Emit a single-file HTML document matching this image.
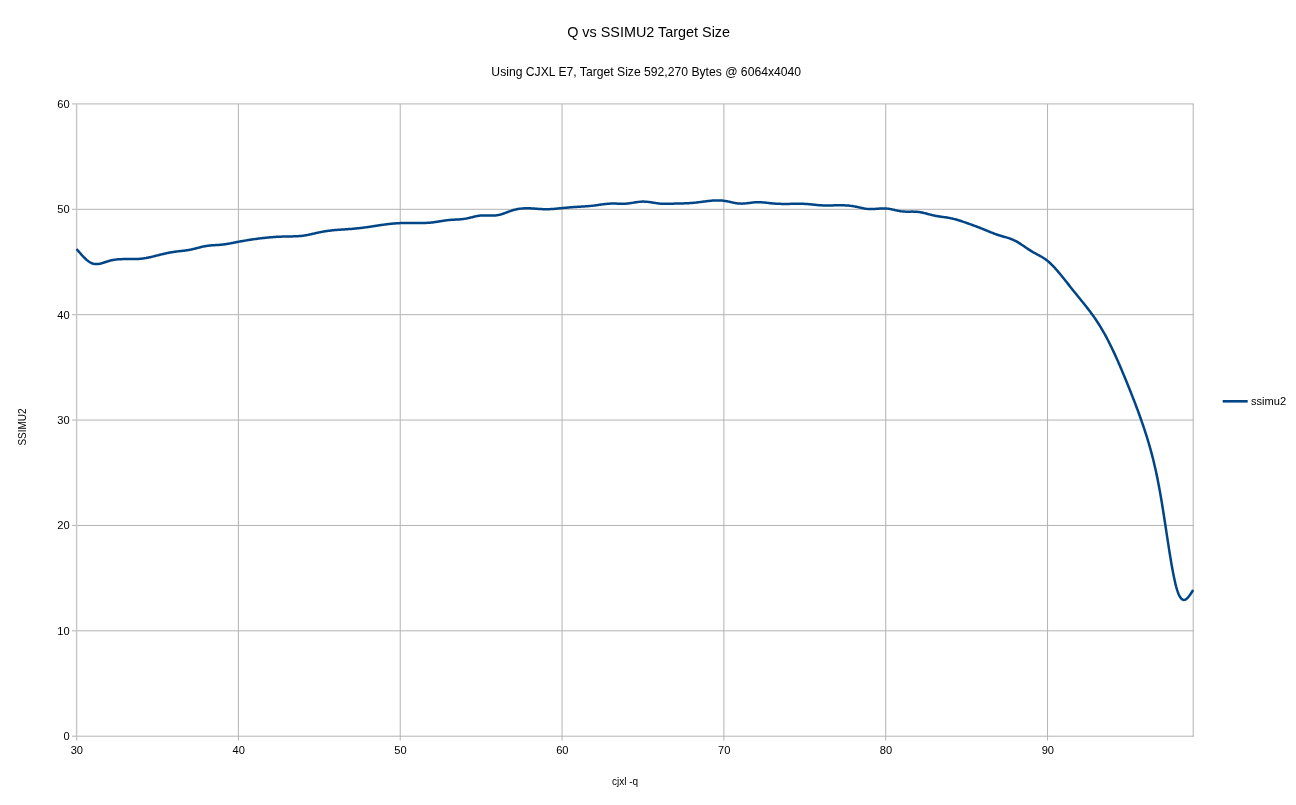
<!DOCTYPE html>
<html><head><meta charset="utf-8"><title>Q vs SSIMU2 Target Size</title>
<style>
html,body{margin:0;padding:0;background:#fff;}
body{width:1296px;height:805px;overflow:hidden;}
svg{display:block;font-family:"Liberation Sans",Arial,sans-serif;}
</style></head><body>
<svg width="1296" height="805" viewBox="0 0 1296 805">
<rect width="1296" height="805" fill="#ffffff"/>
<g>
<text transform="translate(648.6,36.6)" text-anchor="middle" font-size="14.4" fill="#000">Q vs SSIMU2 Target Size</text>
<text transform="translate(646.2,75.5)" text-anchor="middle" font-size="12.16" fill="#000">Using CJXL E7, Target Size 592,270 Bytes @ 6064x4040</text>
<g stroke="#b3b3b3" stroke-width="1" fill="none">
<line x1="72" y1="736.20" x2="1193.7" y2="736.20"/><line x1="72" y1="630.82" x2="1193.7" y2="630.82"/><line x1="72" y1="525.44" x2="1193.7" y2="525.44"/><line x1="72" y1="420.06" x2="1193.7" y2="420.06"/><line x1="72" y1="314.68" x2="1193.7" y2="314.68"/><line x1="72" y1="209.30" x2="1193.7" y2="209.30"/><line x1="72" y1="103.92" x2="1193.7" y2="103.92"/>
<line x1="76.62" y1="103.9" x2="76.62" y2="740.6" stroke="#c6c6c6" stroke-width="1.4"/><line x1="238.38" y1="103.9" x2="238.38" y2="740.6"/><line x1="400.22" y1="103.9" x2="400.22" y2="740.6"/><line x1="562.05" y1="103.9" x2="562.05" y2="740.6"/><line x1="723.88" y1="103.9" x2="723.88" y2="740.6"/><line x1="885.72" y1="103.9" x2="885.72" y2="740.6"/><line x1="1047.55" y1="103.9" x2="1047.55" y2="740.6"/>
<line x1="1193.2" y1="103.9" x2="1193.2" y2="736.7"/>
</g>
<g font-size="11.1" fill="#000">
<text transform="translate(69.6,740.20)" text-anchor="end">0</text><text transform="translate(69.6,634.82)" text-anchor="end">10</text><text transform="translate(69.6,529.44)" text-anchor="end">20</text><text transform="translate(69.6,424.06)" text-anchor="end">30</text><text transform="translate(69.6,318.68)" text-anchor="end">40</text><text transform="translate(69.6,213.30)" text-anchor="end">50</text><text transform="translate(69.6,107.92)" text-anchor="end">60</text>
<text transform="translate(76.85,754.2)" text-anchor="middle">30</text><text transform="translate(238.68,754.2)" text-anchor="middle">40</text><text transform="translate(400.52,754.2)" text-anchor="middle">50</text><text transform="translate(562.35,754.2)" text-anchor="middle">60</text><text transform="translate(724.18,754.2)" text-anchor="middle">70</text><text transform="translate(886.02,754.2)" text-anchor="middle">80</text><text transform="translate(1047.85,754.2)" text-anchor="middle">90</text>
</g>
<path d="M76.55,248.98 L77.36,249.94 L78.17,250.89 L78.98,251.84 L79.79,252.78 L80.60,253.70 L81.41,254.61 L82.21,255.49 L83.02,256.35 L83.83,257.19 L84.64,257.99 L85.45,258.76 L86.26,259.49 L87.07,260.17 L87.88,260.82 L88.69,261.41 L89.50,261.96 L90.31,262.44 L91.11,262.87 L91.92,263.24 L92.73,263.54 L93.54,263.77 L94.35,263.94 L95.16,264.05 L95.97,264.10 L96.78,264.10 L97.59,264.06 L98.40,263.97 L99.21,263.84 L100.02,263.68 L100.82,263.49 L101.63,263.27 L102.44,263.04 L103.25,262.79 L104.06,262.52 L104.87,262.25 L105.68,261.98 L106.49,261.70 L107.30,261.44 L108.11,261.18 L108.92,260.94 L109.73,260.72 L110.54,260.51 L111.34,260.33 L112.15,260.15 L112.96,260.00 L113.77,259.86 L114.58,259.74 L115.39,259.63 L116.20,259.53 L117.01,259.44 L117.82,259.37 L118.63,259.31 L119.44,259.25 L120.25,259.21 L121.05,259.17 L121.86,259.14 L122.67,259.12 L123.48,259.11 L124.29,259.10 L125.10,259.09 L125.91,259.09 L126.72,259.09 L127.53,259.09 L128.34,259.09 L129.15,259.10 L129.95,259.10 L130.76,259.11 L131.57,259.11 L132.38,259.11 L133.19,259.10 L134.00,259.09 L134.81,259.08 L135.62,259.06 L136.43,259.03 L137.24,259.00 L138.05,258.96 L138.86,258.91 L139.66,258.85 L140.47,258.78 L141.28,258.70 L142.09,258.61 L142.90,258.50 L143.71,258.39 L144.52,258.26 L145.33,258.13 L146.14,257.99 L146.95,257.83 L147.76,257.67 L148.57,257.51 L149.38,257.34 L150.18,257.16 L150.99,256.97 L151.80,256.79 L152.61,256.59 L153.42,256.40 L154.23,256.20 L155.04,256.00 L155.85,255.80 L156.66,255.59 L157.47,255.39 L158.28,255.19 L159.09,254.98 L159.89,254.78 L160.70,254.58 L161.51,254.39 L162.32,254.19 L163.13,254.00 L163.94,253.81 L164.75,253.62 L165.56,253.44 L166.37,253.26 L167.18,253.08 L167.99,252.91 L168.80,252.75 L169.60,252.59 L170.41,252.44 L171.22,252.29 L172.03,252.16 L172.84,252.02 L173.65,251.90 L174.46,251.78 L175.27,251.67 L176.08,251.57 L176.89,251.47 L177.70,251.38 L178.50,251.29 L179.31,251.20 L180.12,251.11 L180.93,251.03 L181.74,250.94 L182.55,250.85 L183.36,250.75 L184.17,250.66 L184.98,250.56 L185.79,250.45 L186.60,250.33 L187.41,250.21 L188.21,250.08 L189.02,249.94 L189.83,249.79 L190.64,249.63 L191.45,249.45 L192.26,249.27 L193.07,249.08 L193.88,248.88 L194.69,248.68 L195.50,248.48 L196.31,248.27 L197.12,248.06 L197.93,247.85 L198.73,247.64 L199.54,247.43 L200.35,247.23 L201.16,247.03 L201.97,246.84 L202.78,246.65 L203.59,246.48 L204.40,246.31 L205.21,246.16 L206.02,246.02 L206.83,245.89 L207.64,245.78 L208.44,245.68 L209.25,245.59 L210.06,245.50 L210.87,245.43 L211.68,245.36 L212.49,245.30 L213.30,245.24 L214.11,245.19 L214.92,245.14 L215.73,245.09 L216.54,245.04 L217.35,244.99 L218.15,244.94 L218.96,244.88 L219.77,244.82 L220.58,244.76 L221.39,244.68 L222.20,244.60 L223.01,244.51 L223.82,244.41 L224.63,244.30 L225.44,244.19 L226.25,244.06 L227.05,243.93 L227.86,243.80 L228.67,243.66 L229.48,243.52 L230.29,243.37 L231.10,243.21 L231.91,243.06 L232.72,242.90 L233.53,242.74 L234.34,242.58 L235.15,242.42 L235.96,242.26 L236.76,242.10 L237.57,241.95 L238.38,241.79 L239.19,241.64 L240.00,241.48 L240.81,241.34 L241.62,241.19 L242.43,241.05 L243.24,240.90 L244.05,240.76 L244.86,240.63 L245.67,240.49 L246.48,240.36 L247.28,240.23 L248.09,240.10 L248.90,239.97 L249.71,239.84 L250.52,239.72 L251.33,239.60 L252.14,239.48 L252.95,239.36 L253.76,239.24 L254.57,239.13 L255.38,239.02 L256.19,238.91 L256.99,238.80 L257.80,238.69 L258.61,238.58 L259.42,238.48 L260.23,238.38 L261.04,238.28 L261.85,238.18 L262.66,238.08 L263.47,237.99 L264.28,237.90 L265.09,237.81 L265.90,237.73 L266.70,237.64 L267.51,237.56 L268.32,237.48 L269.13,237.41 L269.94,237.34 L270.75,237.27 L271.56,237.20 L272.37,237.14 L273.18,237.08 L273.99,237.03 L274.80,236.97 L275.60,236.92 L276.41,236.87 L277.22,236.83 L278.03,236.78 L278.84,236.74 L279.65,236.71 L280.46,236.67 L281.27,236.64 L282.08,236.61 L282.89,236.58 L283.70,236.56 L284.51,236.53 L285.31,236.51 L286.12,236.50 L286.93,236.48 L287.74,236.47 L288.55,236.45 L289.36,236.44 L290.17,236.43 L290.98,236.42 L291.79,236.40 L292.60,236.39 L293.41,236.37 L294.22,236.35 L295.02,236.32 L295.83,236.29 L296.64,236.26 L297.45,236.22 L298.26,236.17 L299.07,236.11 L299.88,236.05 L300.69,235.98 L301.50,235.90 L302.31,235.80 L303.12,235.70 L303.93,235.59 L304.74,235.46 L305.54,235.33 L306.35,235.18 L307.16,235.03 L307.97,234.87 L308.78,234.71 L309.59,234.54 L310.40,234.36 L311.21,234.18 L312.02,234.00 L312.83,233.82 L313.64,233.63 L314.45,233.44 L315.25,233.26 L316.06,233.08 L316.87,232.89 L317.68,232.71 L318.49,232.54 L319.30,232.37 L320.11,232.21 L320.92,232.05 L321.73,231.89 L322.54,231.75 L323.35,231.60 L324.15,231.46 L324.96,231.33 L325.77,231.20 L326.58,231.08 L327.39,230.96 L328.20,230.85 L329.01,230.74 L329.82,230.64 L330.63,230.54 L331.44,230.44 L332.25,230.35 L333.06,230.27 L333.87,230.18 L334.67,230.10 L335.48,230.03 L336.29,229.96 L337.10,229.89 L337.91,229.83 L338.72,229.77 L339.53,229.71 L340.34,229.65 L341.15,229.59 L341.96,229.54 L342.77,229.49 L343.57,229.44 L344.38,229.38 L345.19,229.33 L346.00,229.28 L346.81,229.23 L347.62,229.17 L348.43,229.12 L349.24,229.06 L350.05,229.00 L350.86,228.94 L351.67,228.88 L352.48,228.81 L353.29,228.74 L354.09,228.67 L354.90,228.60 L355.71,228.52 L356.52,228.44 L357.33,228.35 L358.14,228.27 L358.95,228.18 L359.76,228.09 L360.57,227.99 L361.38,227.90 L362.19,227.80 L363.00,227.70 L363.80,227.59 L364.61,227.49 L365.42,227.38 L366.23,227.27 L367.04,227.15 L367.85,227.04 L368.66,226.92 L369.47,226.80 L370.28,226.68 L371.09,226.56 L371.90,226.44 L372.70,226.32 L373.51,226.19 L374.32,226.07 L375.13,225.94 L375.94,225.82 L376.75,225.69 L377.56,225.57 L378.37,225.44 L379.18,225.32 L379.99,225.20 L380.80,225.08 L381.61,224.96 L382.42,224.85 L383.22,224.73 L384.03,224.62 L384.84,224.51 L385.65,224.41 L386.46,224.30 L387.27,224.20 L388.08,224.11 L388.89,224.01 L389.70,223.92 L390.51,223.83 L391.32,223.75 L392.12,223.67 L392.93,223.59 L393.74,223.52 L394.55,223.45 L395.36,223.39 L396.17,223.33 L396.98,223.28 L397.79,223.22 L398.60,223.18 L399.41,223.14 L400.22,223.10 L401.03,223.07 L401.84,223.04 L402.64,223.02 L403.45,223.00 L404.26,222.98 L405.07,222.97 L405.88,222.96 L406.69,222.96 L407.50,222.95 L408.31,222.95 L409.12,222.95 L409.93,222.95 L410.74,222.96 L411.55,222.96 L412.35,222.97 L413.16,222.98 L413.97,222.98 L414.78,222.99 L415.59,222.99 L416.40,223.00 L417.21,223.00 L418.02,223.01 L418.83,223.01 L419.64,223.01 L420.45,223.01 L421.25,223.00 L422.06,222.99 L422.87,222.98 L423.68,222.96 L424.49,222.94 L425.30,222.91 L426.11,222.88 L426.92,222.84 L427.73,222.80 L428.54,222.75 L429.35,222.69 L430.16,222.63 L430.96,222.56 L431.77,222.48 L432.58,222.39 L433.39,222.29 L434.20,222.19 L435.01,222.08 L435.82,221.96 L436.63,221.84 L437.44,221.71 L438.25,221.58 L439.06,221.45 L439.87,221.32 L440.68,221.18 L441.48,221.05 L442.29,220.92 L443.10,220.79 L443.91,220.67 L444.72,220.55 L445.53,220.43 L446.34,220.32 L447.15,220.22 L447.96,220.12 L448.77,220.04 L449.58,219.96 L450.39,219.90 L451.19,219.84 L452.00,219.79 L452.81,219.74 L453.62,219.69 L454.43,219.65 L455.24,219.61 L456.05,219.57 L456.86,219.53 L457.67,219.48 L458.48,219.43 L459.29,219.38 L460.10,219.32 L460.90,219.25 L461.71,219.17 L462.52,219.09 L463.33,218.99 L464.14,218.88 L464.95,218.75 L465.76,218.61 L466.57,218.46 L467.38,218.29 L468.19,218.11 L469.00,217.93 L469.80,217.74 L470.61,217.55 L471.42,217.35 L472.23,217.16 L473.04,216.96 L473.85,216.77 L474.66,216.58 L475.47,216.40 L476.28,216.23 L477.09,216.07 L477.90,215.93 L478.71,215.79 L479.51,215.68 L480.32,215.58 L481.13,215.50 L481.94,215.44 L482.75,215.41 L483.56,215.38 L484.37,215.38 L485.18,215.38 L485.99,215.40 L486.80,215.42 L487.61,215.45 L488.42,215.47 L489.23,215.50 L490.03,215.52 L490.84,215.54 L491.65,215.55 L492.46,215.55 L493.27,215.54 L494.08,215.51 L494.89,215.46 L495.70,215.40 L496.51,215.31 L497.32,215.19 L498.13,215.05 L498.94,214.88 L499.74,214.68 L500.55,214.47 L501.36,214.24 L502.17,213.99 L502.98,213.72 L503.79,213.45 L504.60,213.16 L505.41,212.87 L506.22,212.57 L507.03,212.27 L507.84,211.97 L508.65,211.67 L509.45,211.38 L510.26,211.09 L511.07,210.81 L511.88,210.54 L512.69,210.28 L513.50,210.04 L514.31,209.82 L515.12,209.61 L515.93,209.42 L516.74,209.25 L517.55,209.09 L518.35,208.95 L519.16,208.83 L519.97,208.72 L520.78,208.62 L521.59,208.53 L522.40,208.46 L523.21,208.40 L524.02,208.36 L524.83,208.32 L525.64,208.30 L526.45,208.28 L527.26,208.28 L528.06,208.28 L528.87,208.30 L529.68,208.32 L530.49,208.35 L531.30,208.39 L532.11,208.43 L532.92,208.48 L533.73,208.53 L534.54,208.59 L535.35,208.65 L536.16,208.71 L536.97,208.77 L537.77,208.84 L538.58,208.90 L539.39,208.95 L540.20,209.01 L541.01,209.06 L541.82,209.11 L542.63,209.15 L543.44,209.18 L544.25,209.21 L545.06,209.23 L545.87,209.24 L546.68,209.24 L547.49,209.23 L548.29,209.21 L549.10,209.18 L549.91,209.15 L550.72,209.11 L551.53,209.06 L552.34,209.00 L553.15,208.94 L553.96,208.88 L554.77,208.81 L555.58,208.73 L556.39,208.66 L557.20,208.58 L558.00,208.50 L558.81,208.42 L559.62,208.34 L560.43,208.25 L561.24,208.17 L562.05,208.09 L562.86,208.01 L563.67,207.93 L564.48,207.86 L565.29,207.78 L566.10,207.71 L566.90,207.64 L567.71,207.57 L568.52,207.50 L569.33,207.43 L570.14,207.37 L570.95,207.30 L571.76,207.24 L572.57,207.18 L573.38,207.12 L574.19,207.06 L575.00,207.01 L575.81,206.95 L576.62,206.90 L577.42,206.84 L578.23,206.79 L579.04,206.74 L579.85,206.69 L580.66,206.64 L581.47,206.59 L582.28,206.54 L583.09,206.49 L583.90,206.44 L584.71,206.39 L585.52,206.33 L586.33,206.27 L587.13,206.22 L587.94,206.15 L588.75,206.09 L589.56,206.02 L590.37,205.95 L591.18,205.87 L591.99,205.79 L592.80,205.71 L593.61,205.62 L594.42,205.52 L595.23,205.42 L596.03,205.31 L596.84,205.20 L597.65,205.08 L598.46,204.97 L599.27,204.85 L600.08,204.73 L600.89,204.61 L601.70,204.50 L602.51,204.38 L603.32,204.27 L604.13,204.17 L604.94,204.07 L605.75,203.97 L606.55,203.89 L607.36,203.81 L608.17,203.74 L608.98,203.68 L609.79,203.63 L610.60,203.59 L611.41,203.57 L612.22,203.55 L613.03,203.55 L613.84,203.55 L614.65,203.57 L615.45,203.58 L616.26,203.60 L617.07,203.63 L617.88,203.65 L618.69,203.68 L619.50,203.70 L620.31,203.72 L621.12,203.74 L621.93,203.75 L622.74,203.75 L623.55,203.75 L624.36,203.73 L625.16,203.70 L625.97,203.66 L626.78,203.60 L627.59,203.53 L628.40,203.44 L629.21,203.34 L630.02,203.23 L630.83,203.11 L631.64,202.99 L632.45,202.86 L633.26,202.72 L634.07,202.59 L634.88,202.46 L635.68,202.33 L636.49,202.20 L637.30,202.08 L638.11,201.97 L638.92,201.87 L639.73,201.79 L640.54,201.71 L641.35,201.66 L642.16,201.62 L642.97,201.60 L643.78,201.60 L644.58,201.63 L645.39,201.67 L646.20,201.72 L647.01,201.80 L647.82,201.88 L648.63,201.98 L649.44,202.09 L650.25,202.20 L651.06,202.32 L651.87,202.45 L652.68,202.58 L653.49,202.71 L654.29,202.84 L655.10,202.96 L655.91,203.09 L656.72,203.20 L657.53,203.31 L658.34,203.41 L659.15,203.50 L659.96,203.58 L660.77,203.64 L661.58,203.69 L662.39,203.73 L663.20,203.77 L664.00,203.79 L664.81,203.80 L665.62,203.81 L666.43,203.81 L667.24,203.80 L668.05,203.79 L668.86,203.78 L669.67,203.76 L670.48,203.74 L671.29,203.71 L672.10,203.68 L672.91,203.66 L673.72,203.63 L674.52,203.60 L675.33,203.58 L676.14,203.56 L676.95,203.54 L677.76,203.52 L678.57,203.50 L679.38,203.48 L680.19,203.46 L681.00,203.45 L681.81,203.43 L682.62,203.41 L683.42,203.39 L684.23,203.37 L685.04,203.34 L685.85,203.31 L686.66,203.28 L687.47,203.25 L688.28,203.21 L689.09,203.16 L689.90,203.11 L690.71,203.06 L691.52,203.00 L692.33,202.93 L693.13,202.86 L693.94,202.78 L694.75,202.70 L695.56,202.62 L696.37,202.53 L697.18,202.43 L697.99,202.34 L698.80,202.24 L699.61,202.13 L700.42,202.03 L701.23,201.93 L702.04,201.82 L702.85,201.72 L703.65,201.61 L704.46,201.51 L705.27,201.41 L706.08,201.31 L706.89,201.21 L707.70,201.11 L708.51,201.02 L709.32,200.93 L710.13,200.84 L710.94,200.76 L711.75,200.69 L712.55,200.62 L713.36,200.56 L714.17,200.51 L714.98,200.47 L715.79,200.43 L716.60,200.41 L717.41,200.40 L718.22,200.40 L719.03,200.41 L719.84,200.43 L720.65,200.47 L721.46,200.52 L722.27,200.59 L723.07,200.67 L723.88,200.77 L724.69,200.89 L725.50,201.02 L726.31,201.16 L727.12,201.32 L727.93,201.48 L728.74,201.65 L729.55,201.83 L730.36,202.01 L731.17,202.19 L731.97,202.36 L732.78,202.54 L733.59,202.71 L734.40,202.87 L735.21,203.02 L736.02,203.16 L736.83,203.28 L737.64,203.39 L738.45,203.48 L739.26,203.55 L740.07,203.60 L740.88,203.62 L741.68,203.63 L742.49,203.61 L743.30,203.57 L744.11,203.52 L744.92,203.46 L745.73,203.38 L746.54,203.29 L747.35,203.20 L748.16,203.10 L748.97,202.99 L749.78,202.89 L750.59,202.78 L751.39,202.68 L752.20,202.58 L753.01,202.49 L753.82,202.40 L754.63,202.33 L755.44,202.27 L756.25,202.23 L757.06,202.20 L757.87,202.19 L758.68,202.19 L759.49,202.21 L760.30,202.24 L761.10,202.28 L761.91,202.33 L762.72,202.39 L763.53,202.46 L764.34,202.53 L765.15,202.61 L765.96,202.70 L766.77,202.79 L767.58,202.88 L768.39,202.97 L769.20,203.06 L770.01,203.14 L770.82,203.23 L771.62,203.31 L772.43,203.39 L773.24,203.46 L774.05,203.53 L774.86,203.59 L775.67,203.64 L776.48,203.69 L777.29,203.73 L778.10,203.77 L778.91,203.81 L779.72,203.84 L780.52,203.86 L781.33,203.88 L782.14,203.90 L782.95,203.91 L783.76,203.92 L784.57,203.92 L785.38,203.92 L786.19,203.92 L787.00,203.92 L787.81,203.91 L788.62,203.90 L789.43,203.89 L790.23,203.87 L791.04,203.86 L791.85,203.84 L792.66,203.82 L793.47,203.80 L794.28,203.79 L795.09,203.77 L795.90,203.76 L796.71,203.75 L797.52,203.74 L798.33,203.73 L799.14,203.73 L799.95,203.74 L800.75,203.74 L801.56,203.76 L802.37,203.78 L803.18,203.81 L803.99,203.84 L804.80,203.88 L805.61,203.93 L806.42,203.99 L807.23,204.05 L808.04,204.12 L808.85,204.19 L809.65,204.27 L810.46,204.35 L811.27,204.43 L812.08,204.52 L812.89,204.61 L813.70,204.69 L814.51,204.78 L815.32,204.86 L816.13,204.94 L816.94,205.02 L817.75,205.09 L818.56,205.16 L819.37,205.22 L820.17,205.28 L820.98,205.33 L821.79,205.37 L822.60,205.40 L823.41,205.43 L824.22,205.45 L825.03,205.46 L825.84,205.47 L826.65,205.47 L827.46,205.47 L828.27,205.47 L829.07,205.46 L829.88,205.44 L830.69,205.43 L831.50,205.41 L832.31,205.40 L833.12,205.38 L833.93,205.36 L834.74,205.34 L835.55,205.33 L836.36,205.31 L837.17,205.30 L837.98,205.29 L838.78,205.28 L839.59,205.28 L840.40,205.28 L841.21,205.28 L842.02,205.29 L842.83,205.31 L843.64,205.33 L844.45,205.36 L845.26,205.39 L846.07,205.44 L846.88,205.49 L847.69,205.54 L848.50,205.61 L849.30,205.69 L850.11,205.77 L850.92,205.87 L851.73,205.97 L852.54,206.09 L853.35,206.22 L854.16,206.36 L854.97,206.51 L855.78,206.67 L856.59,206.84 L857.40,207.01 L858.20,207.19 L859.01,207.36 L859.82,207.54 L860.63,207.72 L861.44,207.89 L862.25,208.06 L863.06,208.22 L863.87,208.37 L864.68,208.52 L865.49,208.65 L866.30,208.77 L867.11,208.87 L867.92,208.95 L868.72,209.02 L869.53,209.07 L870.34,209.10 L871.15,209.10 L871.96,209.09 L872.77,209.07 L873.58,209.03 L874.39,208.98 L875.20,208.92 L876.01,208.86 L876.82,208.79 L877.62,208.73 L878.43,208.66 L879.24,208.60 L880.05,208.54 L880.86,208.49 L881.67,208.45 L882.48,208.42 L883.29,208.40 L884.10,208.41 L884.91,208.43 L885.72,208.47 L886.53,208.54 L887.33,208.62 L888.14,208.73 L888.95,208.85 L889.76,208.99 L890.57,209.14 L891.38,209.30 L892.19,209.47 L893.00,209.65 L893.81,209.83 L894.62,210.01 L895.43,210.20 L896.24,210.38 L897.04,210.55 L897.85,210.72 L898.66,210.88 L899.47,211.03 L900.28,211.16 L901.09,211.28 L901.90,211.38 L902.71,211.46 L903.52,211.53 L904.33,211.57 L905.14,211.61 L905.95,211.63 L906.75,211.64 L907.56,211.65 L908.37,211.65 L909.18,211.64 L909.99,211.64 L910.80,211.63 L911.61,211.62 L912.42,211.62 L913.23,211.63 L914.04,211.64 L914.85,211.66 L915.66,211.70 L916.47,211.74 L917.27,211.81 L918.08,211.89 L918.89,211.99 L919.70,212.11 L920.51,212.25 L921.32,212.40 L922.13,212.56 L922.94,212.74 L923.75,212.93 L924.56,213.12 L925.37,213.32 L926.17,213.53 L926.98,213.75 L927.79,213.96 L928.60,214.18 L929.41,214.39 L930.22,214.60 L931.03,214.81 L931.84,215.02 L932.65,215.21 L933.46,215.40 L934.27,215.58 L935.08,215.75 L935.88,215.90 L936.69,216.05 L937.50,216.19 L938.31,216.32 L939.12,216.44 L939.93,216.56 L940.74,216.68 L941.55,216.79 L942.36,216.90 L943.17,217.01 L943.98,217.13 L944.79,217.24 L945.60,217.36 L946.40,217.48 L947.21,217.60 L948.02,217.74 L948.83,217.87 L949.64,218.02 L950.45,218.18 L951.26,218.35 L952.07,218.53 L952.88,218.71 L953.69,218.91 L954.50,219.12 L955.30,219.33 L956.11,219.56 L956.92,219.79 L957.73,220.02 L958.54,220.27 L959.35,220.52 L960.16,220.77 L960.97,221.03 L961.78,221.30 L962.59,221.57 L963.40,221.84 L964.21,222.12 L965.02,222.40 L965.82,222.68 L966.63,222.96 L967.44,223.24 L968.25,223.53 L969.06,223.82 L969.87,224.10 L970.68,224.40 L971.49,224.69 L972.30,224.98 L973.11,225.28 L973.92,225.57 L974.73,225.87 L975.53,226.17 L976.34,226.48 L977.15,226.78 L977.96,227.09 L978.77,227.40 L979.58,227.72 L980.39,228.03 L981.20,228.35 L982.01,228.68 L982.82,229.00 L983.63,229.33 L984.43,229.66 L985.24,229.99 L986.05,230.32 L986.86,230.66 L987.67,230.99 L988.48,231.32 L989.29,231.65 L990.10,231.98 L990.91,232.31 L991.72,232.63 L992.53,232.95 L993.34,233.26 L994.14,233.57 L994.95,233.87 L995.76,234.17 L996.57,234.46 L997.38,234.74 L998.19,235.01 L999.00,235.27 L999.81,235.52 L1000.62,235.77 L1001.43,236.01 L1002.24,236.24 L1003.05,236.47 L1003.85,236.70 L1004.66,236.93 L1005.47,237.17 L1006.28,237.40 L1007.09,237.65 L1007.90,237.90 L1008.71,238.16 L1009.52,238.43 L1010.33,238.71 L1011.14,239.01 L1011.95,239.32 L1012.76,239.66 L1013.57,240.01 L1014.37,240.38 L1015.18,240.78 L1015.99,241.20 L1016.80,241.65 L1017.61,242.11 L1018.42,242.60 L1019.23,243.10 L1020.04,243.61 L1020.85,244.14 L1021.66,244.68 L1022.47,245.23 L1023.27,245.78 L1024.08,246.33 L1024.89,246.89 L1025.70,247.45 L1026.51,248.01 L1027.32,248.56 L1028.13,249.10 L1028.94,249.64 L1029.75,250.16 L1030.56,250.67 L1031.37,251.17 L1032.18,251.65 L1032.98,252.12 L1033.79,252.57 L1034.60,253.01 L1035.41,253.45 L1036.22,253.88 L1037.03,254.31 L1037.84,254.74 L1038.65,255.18 L1039.46,255.62 L1040.27,256.06 L1041.08,256.52 L1041.89,256.99 L1042.70,257.48 L1043.50,257.99 L1044.31,258.51 L1045.12,259.06 L1045.93,259.64 L1046.74,260.24 L1047.55,260.88 L1048.36,261.55 L1049.17,262.25 L1049.98,262.98 L1050.79,263.74 L1051.60,264.53 L1052.40,265.34 L1053.21,266.18 L1054.02,267.03 L1054.83,267.92 L1055.64,268.82 L1056.45,269.73 L1057.26,270.67 L1058.07,271.62 L1058.88,272.58 L1059.69,273.55 L1060.50,274.54 L1061.31,275.53 L1062.12,276.53 L1062.92,277.53 L1063.73,278.54 L1064.54,279.55 L1065.35,280.56 L1066.16,281.58 L1066.97,282.59 L1067.78,283.61 L1068.59,284.63 L1069.40,285.65 L1070.21,286.67 L1071.02,287.69 L1071.83,288.70 L1072.63,289.72 L1073.44,290.74 L1074.25,291.76 L1075.06,292.77 L1075.87,293.78 L1076.68,294.80 L1077.49,295.81 L1078.30,296.81 L1079.11,297.82 L1079.92,298.82 L1080.73,299.82 L1081.53,300.82 L1082.34,301.81 L1083.15,302.81 L1083.96,303.81 L1084.77,304.81 L1085.58,305.82 L1086.39,306.84 L1087.20,307.86 L1088.01,308.89 L1088.82,309.93 L1089.63,310.98 L1090.44,312.05 L1091.25,313.13 L1092.05,314.23 L1092.86,315.34 L1093.67,316.47 L1094.48,317.62 L1095.29,318.79 L1096.10,319.99 L1096.91,321.21 L1097.72,322.45 L1098.53,323.72 L1099.34,325.01 L1100.15,326.32 L1100.95,327.66 L1101.76,329.02 L1102.57,330.41 L1103.38,331.82 L1104.19,333.26 L1105.00,334.71 L1105.81,336.20 L1106.62,337.71 L1107.43,339.24 L1108.24,340.79 L1109.05,342.37 L1109.86,343.98 L1110.66,345.61 L1111.47,347.26 L1112.28,348.94 L1113.09,350.64 L1113.90,352.37 L1114.71,354.12 L1115.52,355.89 L1116.33,357.68 L1117.14,359.49 L1117.95,361.32 L1118.76,363.17 L1119.57,365.04 L1120.38,366.93 L1121.18,368.83 L1121.99,370.74 L1122.80,372.67 L1123.61,374.61 L1124.42,376.57 L1125.23,378.54 L1126.04,380.51 L1126.85,382.50 L1127.66,384.50 L1128.47,386.50 L1129.28,388.51 L1130.08,390.53 L1130.89,392.56 L1131.70,394.60 L1132.51,396.66 L1133.32,398.73 L1134.13,400.82 L1134.94,402.92 L1135.75,405.04 L1136.56,407.19 L1137.37,409.36 L1138.18,411.55 L1138.99,413.76 L1139.80,416.01 L1140.60,418.28 L1141.41,420.58 L1142.22,422.91 L1143.03,425.27 L1143.84,427.67 L1144.65,430.11 L1145.46,432.58 L1146.27,435.10 L1147.08,437.67 L1147.89,440.31 L1148.70,443.00 L1149.50,445.78 L1150.31,448.64 L1151.12,451.58 L1151.93,454.63 L1152.74,457.78 L1153.55,461.04 L1154.36,464.42 L1155.17,467.93 L1155.98,471.58 L1156.79,475.37 L1157.60,479.31 L1158.41,483.41 L1159.22,487.67 L1160.02,492.10 L1160.83,496.72 L1161.64,501.52 L1162.45,506.48 L1163.26,511.56 L1164.07,516.75 L1164.88,522.01 L1165.69,527.31 L1166.50,532.63 L1167.31,537.93 L1168.12,543.18 L1168.92,548.36 L1169.73,553.44 L1170.54,558.38 L1171.35,563.17 L1172.16,567.76 L1172.97,572.13 L1173.78,576.25 L1174.59,580.10 L1175.40,583.64 L1176.21,586.84 L1177.02,589.68 L1177.83,592.13 L1178.63,594.21 L1179.44,595.93 L1180.25,597.31 L1181.06,598.38 L1181.87,599.16 L1182.68,599.66 L1183.49,599.90 L1184.30,599.90 L1185.11,599.69 L1185.92,599.28 L1186.73,598.70 L1187.54,597.95 L1188.35,597.07 L1189.15,596.07 L1189.96,594.97 L1190.77,593.79 L1191.58,592.55 L1192.39,591.28 L1193.20,589.98" fill="none" stroke="#004586" stroke-width="2.5" stroke-linejoin="round" stroke-linecap="butt"/>
<line x1="1222.7" y1="401.3" x2="1247.7" y2="401.3" stroke="#004586" stroke-width="2.6" stroke-linecap="butt"/>
<text transform="translate(1251,405.3)" font-size="11.1" fill="#000">ssimu2</text>
<text transform="translate(26.4,427) rotate(-90)" text-anchor="middle" font-size="10" fill="#000">SSIMU2</text>
<text transform="translate(625.1,784.8)" text-anchor="middle" font-size="10" fill="#000">cjxl -q</text>
</g>
</svg>
</body></html>
